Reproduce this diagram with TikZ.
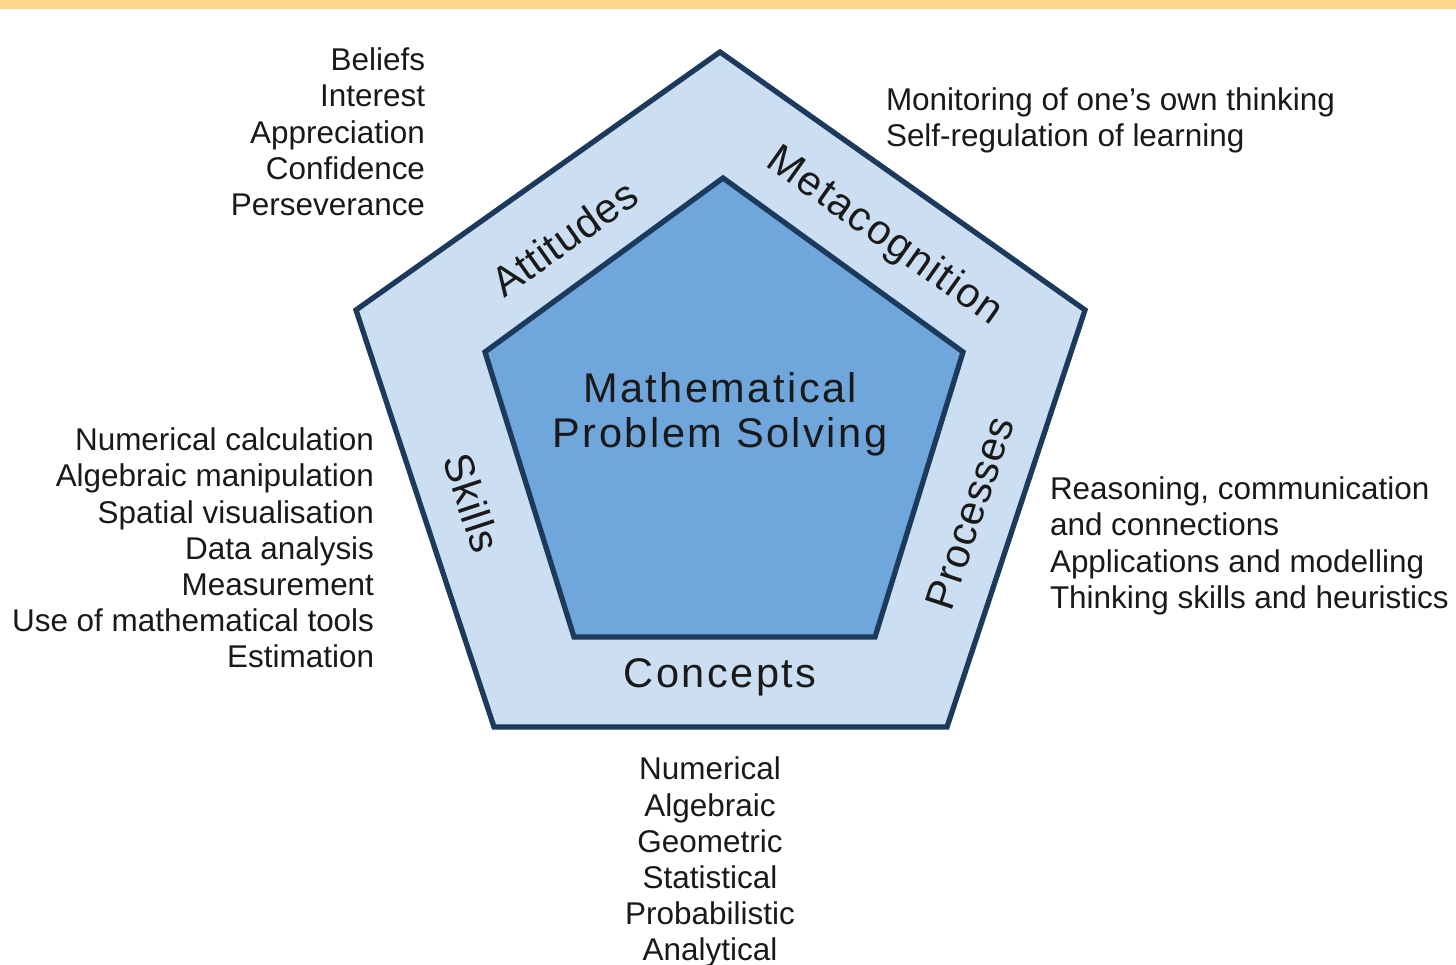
\documentclass[tikz,border=0pt]{standalone}
\usepackage{fontspec}
\setmainfont{Liberation Sans}
\usetikzlibrary{positioning}
\definecolor{navyline}{RGB}{27,58,92}
\definecolor{bandblue}{RGB}{204,223,242}
\definecolor{coreblue}{RGB}{111,166,220}
\definecolor{topbar}{RGB}{255,215,138}
\definecolor{inktext}{RGB}{25,25,25}
\tikzset{
  pent/.style={draw=navyline, line width=1.5pt, line join=miter},
  lst/.style={inner sep=0pt, outer sep=0pt, text=inktext, font=\fontsize{8.95}{10.3}\selectfont},
  bandlbl/.style={inner sep=0pt, outer sep=0pt, text=inktext, font=\fontsize{11.8}{12.8}\selectfont\addfontfeature{LetterSpace=6}},
  edgelbl/.style={inner sep=0pt, outer sep=0pt, text=inktext, font=\fontsize{11.8}{12.8}\selectfont\addfontfeature{LetterSpace=2}}
}

\begin{document}
\begin{tikzpicture}
  \useasboundingbox (0,0) rectangle (14.56,9.64);
  \fill[topbar] (0,9.55) rectangle (14.56,9.64);

  \coordinate (o1) at (7.20,9.12);
  \coordinate (o2) at (10.85,6.54);
  \coordinate (o3) at (9.47,2.37);
  \coordinate (o4) at (4.94,2.37);
  \coordinate (o5) at (3.56,6.54);
  \coordinate (i1) at (7.23,7.86);
  \coordinate (i2) at (9.63,6.12);
  \coordinate (i3) at (8.75,3.27);
  \coordinate (i4) at (5.74,3.27);
  \coordinate (i5) at (4.85,6.12);

  \draw[pent, fill=bandblue] (o1) -- (o2) -- (o3) -- (o4) -- (o5) -- cycle;
  \draw[pent, fill=coreblue] (i1) -- (i2) -- (i3) -- (i4) -- (i5) -- cycle;

  \node[bandlbl, align=center, anchor=north] (mps) at (7.20,5.92) {Mathematical\\Problem Solving};
  \node[edgelbl, rotate=35.3] (att) at (5.64,7.26) {Attitudes};
  \node[edgelbl, rotate=-35.3, font=\fontsize{11.8}{12.8}\selectfont\addfontfeature{LetterSpace=4}] (meta) at (8.84,7.27) {Metacognition};
  \node[edgelbl, rotate=71.7] (proc) at (9.70,4.51) {Processes};
  \node[edgelbl, rotate=-71.7] (skl) at (4.72,4.61) {Skills};
  \node[bandlbl] (conc) at (7.20,2.87) {Concepts};

  \node[lst, align=right, anchor=north east] (attlist) at (4.25,9.16)
    {Beliefs\\Interest\\Appreciation\\Confidence\\Perseverance};
  \node[lst, align=left, anchor=north west] (metalist) at (8.86,8.76)
    {Monitoring of one’s own thinking\\Self-regulation of learning};
  \node[lst, align=right, anchor=north east] (skllist) at (3.74,5.36)
    {Numerical calculation\\Algebraic manipulation\\Spatial visualisation\\Data analysis\\Measurement\\Use of mathematical tools\\Estimation};
  \node[lst, align=left, anchor=north west] (proclist) at (10.50,4.87)
    {Reasoning, communication\\and connections\\Applications and modelling\\Thinking skills and heuristics};
  \node[lst, align=center, anchor=north] (conclist) at (7.10,2.07)
    {Numerical\\Algebraic\\Geometric\\Statistical\\Probabilistic\\Analytical};
\end{tikzpicture}
\end{document}
